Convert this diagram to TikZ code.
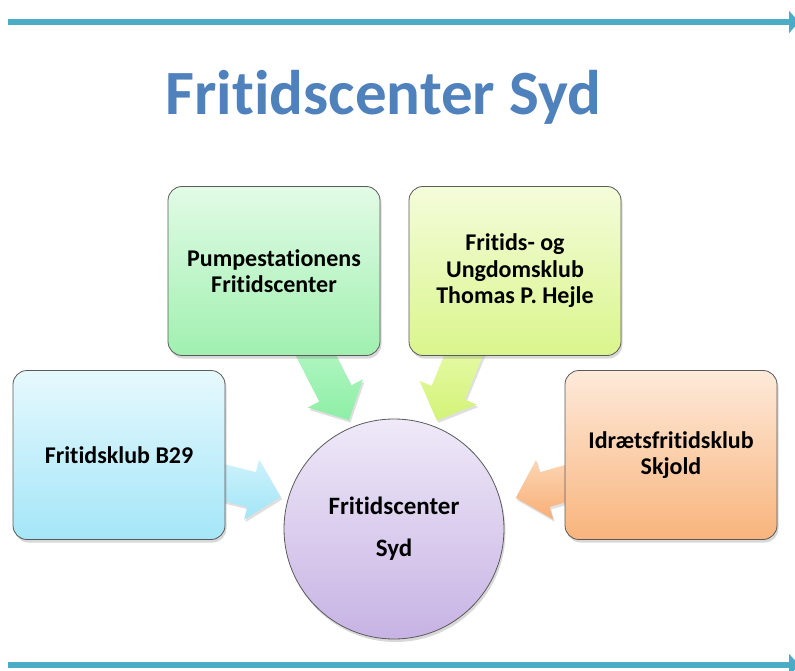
\documentclass[tikz,border=0pt]{standalone}
\usepackage{fontspec}
\setmainfont{Carlito}[Ligatures={NoCommon,NoRare,NoContextual},Contextuals={NoAlternate}]
\usetikzlibrary{shadows,arrows.meta}
\definecolor{linecol}{HTML}{4BACC6}
\definecolor{titlecol}{HTML}{4F81BD}
\definecolor{edgecol}{HTML}{5A5A5A}
\definecolor{hubtop}{HTML}{EFE9F8}
\definecolor{hubbot}{HTML}{C7B3E4}
\newcommand{\fcsti}{t\kern0pt i}
\newcommand{\fcsArrow}[6]{%
  \definecolor{fcsArrTop}{HTML}{#5}\definecolor{fcsArrBot}{HTML}{#6}%
  \begin{scope}[shift={(#1,#2)}, rotate=#3]
    \path[top color=fcsArrTop, bottom color=fcsArrBot, drop shadow={shadow xshift=1.5pt, shadow yshift=-2.5pt, opacity=0.25}]
      (0,-18) -- ({#4-30},-18) -- ({#4-30},-31) -- (#4,0) -- ({#4-30},31) -- ({#4-30},18) -- (0,18) -- cycle;
  \end{scope}}
\begin{document}
\begin{tikzpicture}[x=1pt,y=-1pt,
  box/.style={draw=edgecol, line width=0.8pt, rounded corners=14pt,
    minimum width=212pt, minimum height=169pt, align=center,
    font=\bfseries\fontsize{24}{26.5}\selectfont,
    drop shadow={shadow xshift=1.5pt, shadow yshift=-3pt, opacity=0.3}},
  hubnode/.style={circle, draw=edgecol, line width=0.8pt, minimum size=220pt, align=center,
    font=\bfseries\fontsize{25}{42}\selectfont,
    top color=hubtop, bottom color=hubbot,
    drop shadow={shadow xshift=1.5pt, shadow yshift=-3pt, opacity=0.3}},
  rule/.style={line width=6pt, draw=linecol, -{Triangle[width=22pt,length=10pt]}}
]
\useasboundingbox (0,0) rectangle (795,671);
\fill[white] (0,0) rectangle (795,671);

% rules
\coordinate (t1) at (8,22);
\coordinate (t2) at (799,22);
\coordinate (b1) at (8,665);
\coordinate (b2) at (799,665);
\draw[rule] (t1) -- (t2);
\draw[rule] (b1) -- (b2);

% title
\node[font=\bfseries\fontsize{63}{70}\selectfont, text=titlecol] (title) at (383.5,97) {Fri\fcsti dscenter Syd};

% block arrows
\fcsArrow{308}{340}{-62.9}{90}{B8F8C8}{8EEEA6}
\fcsArrow{470}{340}{-112.4}{87}{EAFBB0}{D3F378}
\fcsArrow{205}{478}{-14}{78}{CDF2FB}{A2E5F7}
\fcsArrow{585}{478}{-164}{72}{FCD6B4}{F8AE76}

% boxes
\node[box, top color={rgb,255:red,226;green,251;blue,230}, bottom color={rgb,255:red,160;green,240;blue,176}] (pump) at (274,271) {Pumpesta\fcsti onens\\Fri\fcsti dscenter};
\node[box, top color={rgb,255:red,244;green,252;blue,218}, bottom color={rgb,255:red,218;green,245;blue,140}] (thomas) at (515,271) {Fri\fcsti ds- og\\Ungdomsklub\\Thomas P. Hejle};
\node[box, top color={rgb,255:red,230;green,249;blue,253}, bottom color={rgb,255:red,164;green,230;blue,248}] (b29) at (119,455) {Fri\fcsti dsklub B29};
\node[box, top color={rgb,255:red,253;green,234;blue,218}, bottom color={rgb,255:red,249;green,180;blue,124}] (skjold) at (671,455) {Idrætsfri\fcsti dsklub\\Skjold};

% hub
\node[hubnode] (hub) at (394,529) {Fri\fcsti dscenter\\Syd};
\end{tikzpicture}
\end{document}
